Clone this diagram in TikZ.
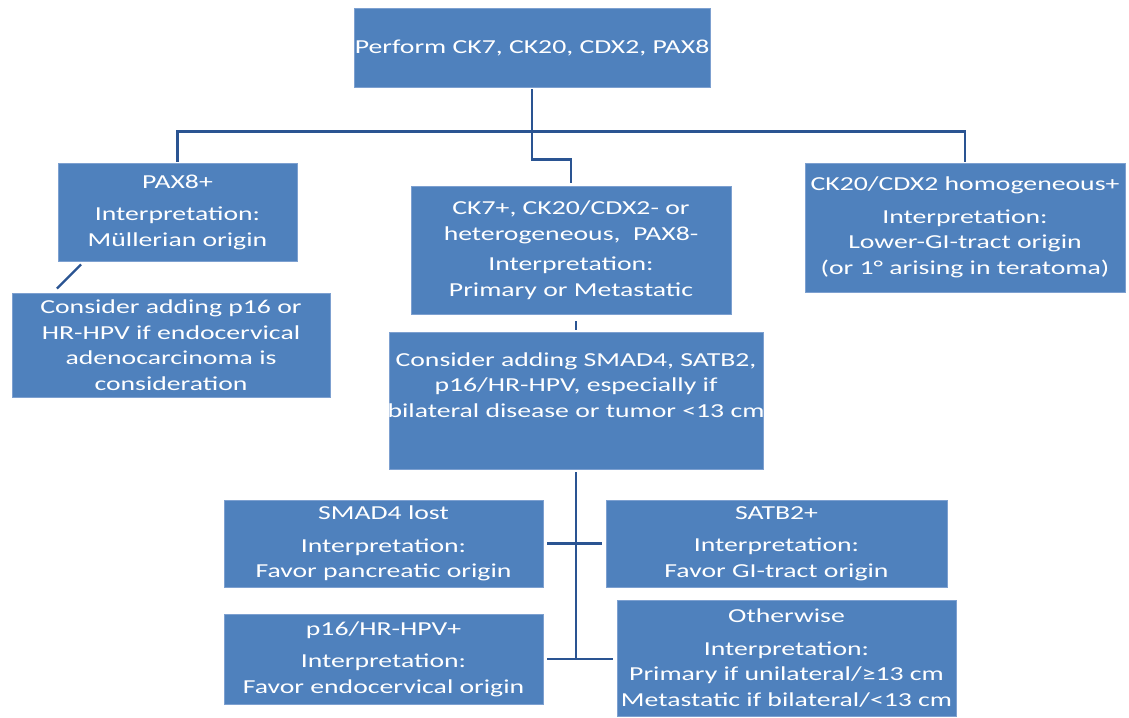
\documentclass[tikz,border=0pt]{standalone}
\usepackage{fontspec}
\setmainfont{Carlito}[FakeStretch=1.40]
\usetikzlibrary{calc}
\definecolor{boxfill}{RGB}{79,129,189}
\definecolor{boxline}{RGB}{125,160,208}
\definecolor{conn}{RGB}{42,84,146}
\tikzset{
  box/.style={draw=boxline, line width=0.8pt, fill=boxfill, text=white, align=center, inner sep=0pt,
    font=\fontsize{19.8}{25.5}\selectfont},
  txt/.style={text=white, align=center, inner sep=0pt, font=\fontsize{19.8}{25.5}\selectfont},
  link/.style={draw=conn, line width=2.3pt}
}
\begin{document}
\begin{tikzpicture}[x=1pt,y=-1pt]
\useasboundingbox[fill=white] (0,0) rectangle (1129,717);

\node[box, minimum width=356pt, minimum height=79pt] (top) at (532,47.5) {Perform CK7, CK20, CDX2, PAX8};

\node[box, minimum width=239pt, minimum height=98pt] (pax) at (177.5,212) {PAX8+\\[7pt]Interpretation:\\Müllerian origin};

\node[box, minimum width=320pt, minimum height=128pt] (mid) at (571,250) {CK7+, CK20/CDX2- or\\heterogeneous,~ PAX8-\\[5pt]Interpretation:\\Primary or Metastatic};

\node[box, minimum width=320pt, minimum height=129pt] (right) at (965,227.5) {CK20/CDX2 homogeneous+\\[7pt]Interpretation:\\Lower-GI-tract origin\\(or 1° arising in teratoma)};

\node[box, minimum width=318pt, minimum height=104pt] (cons) at (171,345) {Consider adding p16 or\\HR-HPV if endocervical\\adenocarcinoma is\\consideration};

\node[box, minimum width=374pt, minimum height=137pt] (smadq) at (576,400.5) {};
\node[txt] (smadqt) at (576,385) {Consider adding SMAD4, SATB2,\\p16/HR-HPV, especially if\\bilateral disease or tumor <13 cm};

\node[box, minimum width=319pt, minimum height=87pt] (smad) at (383.5,543.5) {SMAD4 lost\\[7pt]Interpretation:\\Favor pancreatic origin};

\node[box, minimum width=341pt, minimum height=87pt] (satb) at (776.5,543.5) {SATB2+\\[7pt]Interpretation:\\Favor GI-tract origin};

\node[box, minimum width=319pt, minimum height=90pt] (p16) at (383.5,659) {p16/HR-HPV+\\[7pt]Interpretation:\\Favor endocervical origin};

\node[box, minimum width=339pt, minimum height=116pt] (other) at (786.5,658) {Otherwise\\[7pt]Interpretation:\\Primary if unilateral/≥13 cm\\Metastatic if bilateral/<13 cm};

% connectors
\draw[link] ([yshift=-2pt]top.south) -- ++(0,70) -| ([yshift=3pt]mid.north);
\draw[link] ([yshift=1pt]pax.north) -- ++(0,-30) -| ([yshift=1pt]right.north);
\draw[link] ([xshift=-96.5pt,yshift=-3pt]pax.south) -- ([xshift=-114pt,yshift=4pt]cons.north);
\draw[link] ([xshift=5pt,yshift=-7pt]mid.south) -- ([yshift=2pt]smadq.north);
\draw[link] ([yshift=-3pt]smadq.south) -- (smadq.south |- p16.east);
\draw[link] ([xshift=4pt]smad.east) -- ([xshift=-4pt]satb.west);
\draw[link] ([xshift=4pt]p16.east) -- ([xshift=-4pt]p16.east -| other.west);
\end{tikzpicture}
\end{document}
